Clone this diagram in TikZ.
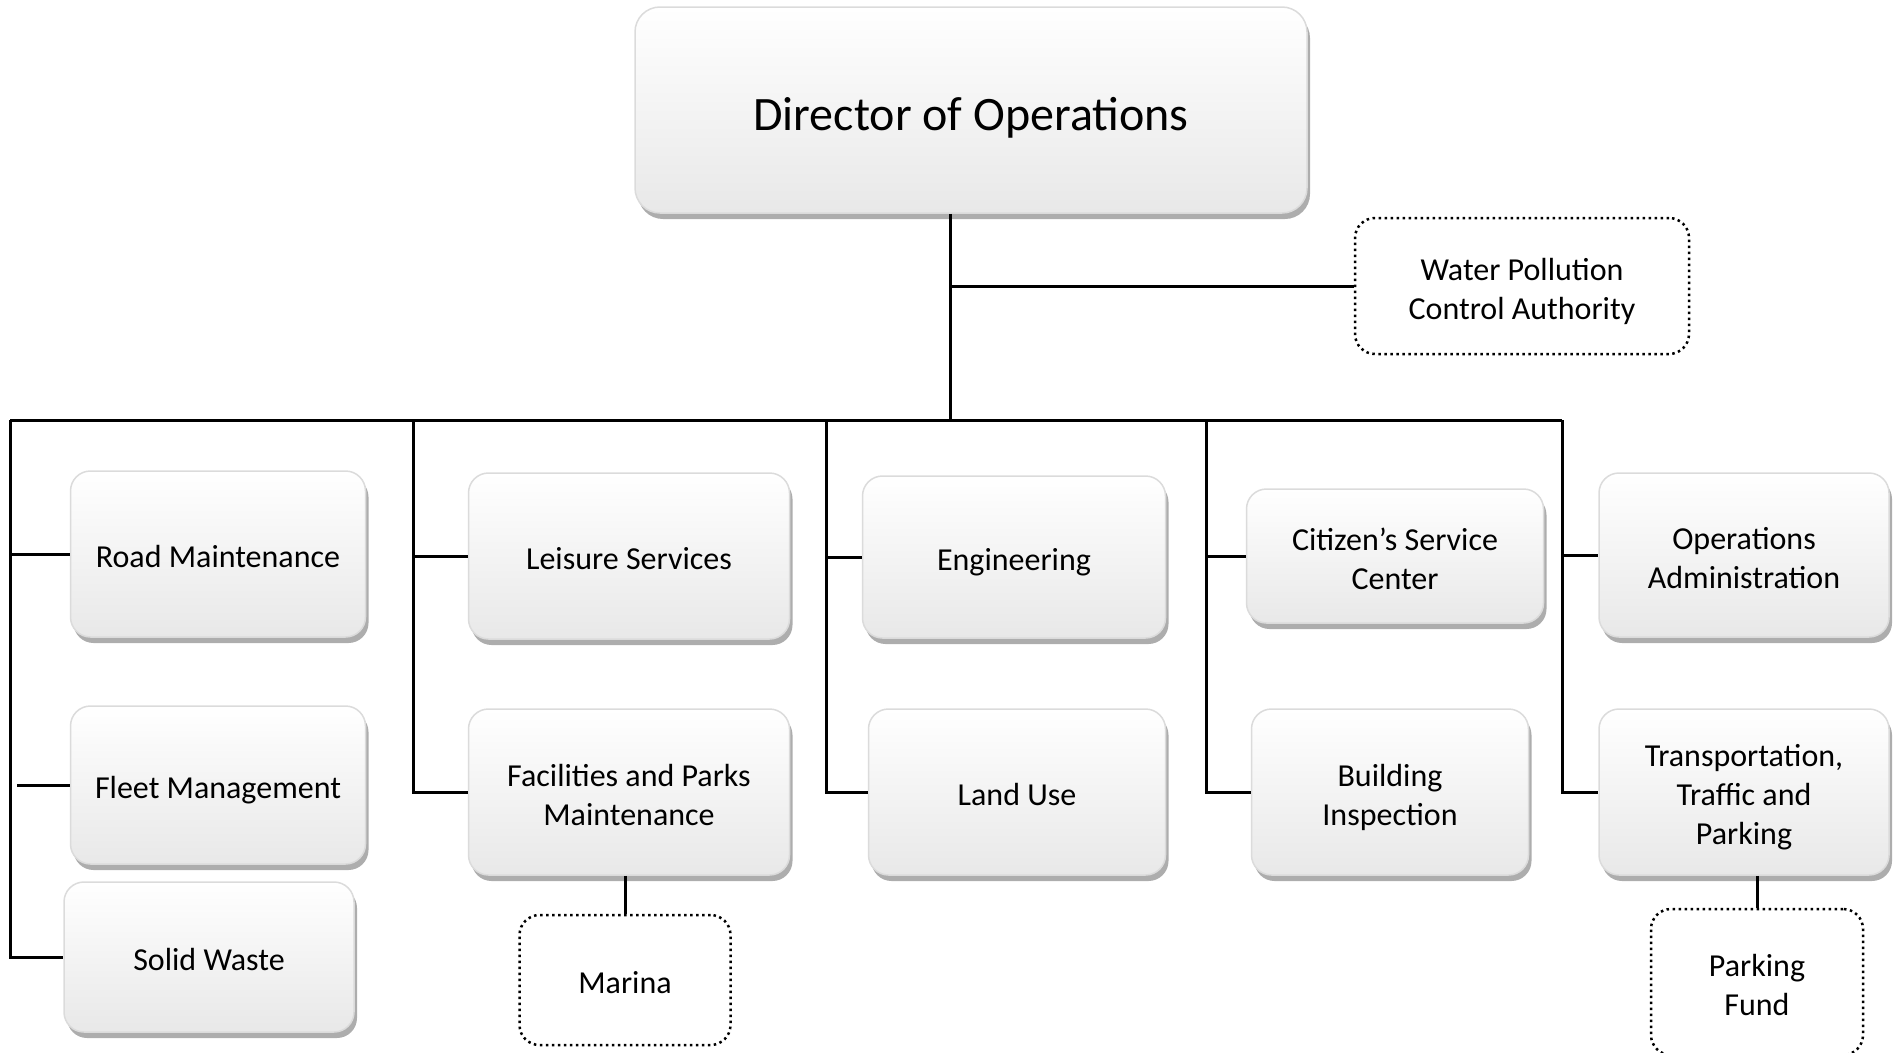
\documentclass[tikz,border=0pt]{standalone}
\usepackage{fontspec}
\setmainfont{Carlito}
\usetikzlibrary{shadows,calc}
\newcommand\myTopStrut{\rule{0pt}{33pt}}
\newcommand\myBotStrut{\rule[-6pt]{0pt}{6pt}}
\newcommand\myBigTopStrut{\rule{0pt}{49.5pt}}
\newcommand\myBigBotStrut{\rule[-9pt]{0pt}{9pt}}
\begin{document}
\begin{tikzpicture}[x=1pt,y=-1pt,
  box/.style={rounded corners=20pt, draw=black!14, line width=1.5pt,
    top color=white, bottom color=black!9,
    drop shadow={shadow xshift=3pt, shadow yshift=-6pt, shadow scale=1, fill=black!32, opacity=1},
    align=center, font=\fontsize{32}{39}\selectfont, inner sep=0pt},
  dbox/.style={rounded corners=20pt, draw=black, line width=2.5pt,
    dash pattern=on 2.5pt off 3.5pt, fill=white,
    align=center, font=\fontsize{32}{39}\selectfont, inner sep=0pt},
  link/.style={line width=3pt, draw=black}]
\useasboundingbox (0,0) rectangle (1897,1052);

% top
\node[box, minimum width=672pt, minimum height=206pt, rounded corners=25pt,
  font=\fontsize{48}{58}\selectfont] (dir) at (971,110) {\myBigTopStrut Director of Operations\myBigBotStrut};
\node[dbox, minimum width=334pt, minimum height=136pt] (wpca) at (1522,286) {\myTopStrut Water Pollution\\Control Authority\myBotStrut};

% column 1
\node[box, minimum width=295pt, minimum height=166pt] (road) at (218,554) {\myTopStrut Road Maintenance\myBotStrut};
\node[box, minimum width=295pt, minimum height=158pt] (fleet) at (218,785) {\myTopStrut Fleet Management\myBotStrut};
\node[box, minimum width=290pt, minimum height=150pt] (solid) at (209,957) {\myTopStrut Solid Waste\myBotStrut};
% column 2
\node[box, minimum width=321pt, minimum height=166pt] (leis) at (629,556) {\myTopStrut Leisure Services\myBotStrut};
\node[box, minimum width=321pt, minimum height=166pt] (fac) at (629,792) {\myTopStrut Facilities and Parks\\Maintenance\myBotStrut};
\node[dbox, minimum width=211pt, minimum height=130pt] (marina) at (625,980) {\myTopStrut Marina\myBotStrut};
% column 3
\node[box, minimum width=303pt, minimum height=162pt] (eng) at (1014,557) {\myTopStrut Engineering\myBotStrut};
\node[box, minimum width=297pt, minimum height=166pt] (land) at (1017,792) {\myTopStrut Land Use\myBotStrut};
% column 4
\node[box, minimum width=297pt, minimum height=134pt] (cit) at (1395,556) {\myTopStrut Citizen’s Service\\Center\myBotStrut};
\node[box, minimum width=277pt, minimum height=166pt] (build) at (1390,792) {\myTopStrut Building\\Inspection\myBotStrut};
% column 5
\node[box, minimum width=290pt, minimum height=164pt] (ops) at (1744,555) {\myTopStrut Operations\\Administration\myBotStrut};
\node[box, minimum width=290pt, minimum height=166pt] (trans) at (1744,792) {\myTopStrut Transportation,\\Traffic and\\Parking\myBotStrut};
\node[dbox, minimum width=212pt, minimum height=146pt] (pf) at (1757,982) {\myTopStrut Parking\\Fund\myBotStrut};

% bus coordinates
\coordinate (stem) at (950,420);
\coordinate (b1) at (10,420);
\coordinate (b2) at (413,420);
\coordinate (b3) at (826,420);
\coordinate (b4) at (1206,420);
\coordinate (b5) at (1562,420);

% connectors
\draw[link] (dir.south -| stem) -- (stem);
\draw[link] (stem |- wpca.west) -- (wpca.west);
\draw[link] (b1) -- (b5);

\draw[link] (b1) -- (b1 |- solid.west) -- (solid.west);
\draw[link] (b1 |- road.west) -- (road.west);
\draw[link] ($(b1 |- fleet.west)+(7,0)$) -- (fleet.west);

\draw[link] (b2) -- (b2 |- fac.west) -- (fac.west);
\draw[link] (b2 |- leis.west) -- (leis.west);
\draw[link] (fac.south -| marina.north) -- (marina.north);

\draw[link] (b3) -- (b3 |- land.west) -- (land.west);
\draw[link] (b3 |- eng.west) -- (eng.west);

\draw[link] (b4) -- (b4 |- build.west) -- (build.west);
\draw[link] (b4 |- cit.west) -- (cit.west);

\draw[link] (b5) -- (b5 |- trans.west) -- (trans.west);
\draw[link] (b5 |- ops.west) -- (ops.west);
\draw[link] (trans.south -| pf.north) -- (pf.north);
\end{tikzpicture}
\end{document}
